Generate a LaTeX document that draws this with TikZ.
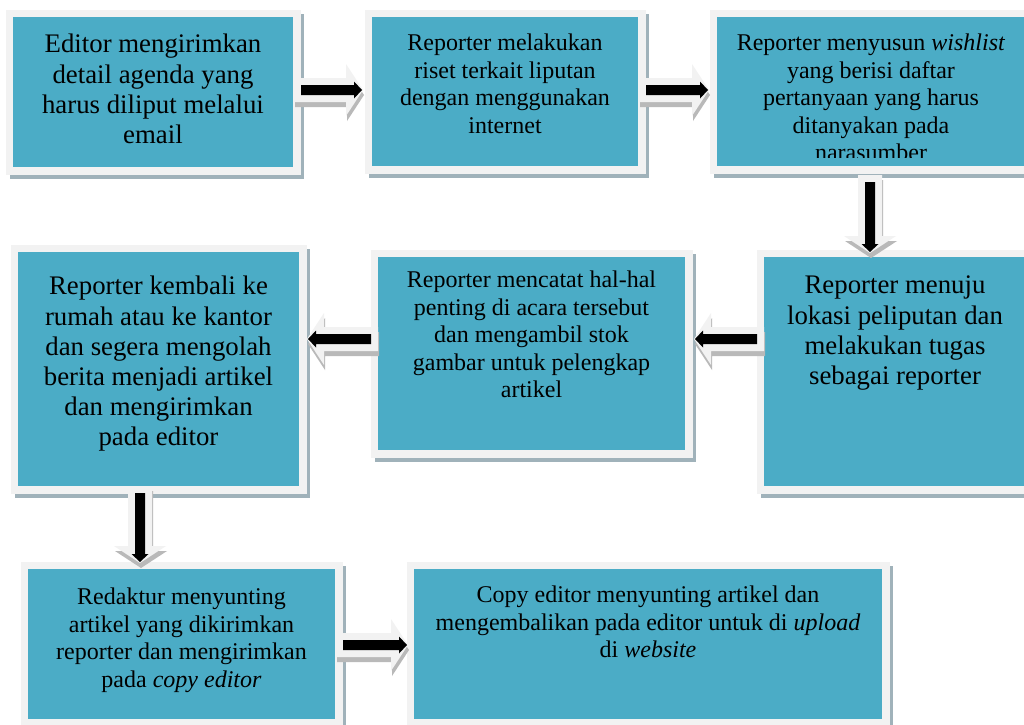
\documentclass[tikz,border=0pt]{standalone}
\usepackage{fontspec}
\setmainfont{Liberation Serif}
\definecolor{teal1}{RGB}{75,172,198}
\definecolor{panel}{RGB}{242,242,242}
\definecolor{bshadow}{RGB}{160,178,186}
\definecolor{ashadow}{RGB}{185,185,185}
\tikzset{
  box/.style={fill=teal1, draw=panel, line width=7.5pt, inner sep=0pt, outer sep=0pt},
  txtA/.style={align=center, inner sep=0pt, anchor=north, font=\fontsize{26.8}{30.2}\selectfont},
  txtB/.style={align=center, inner sep=0pt, anchor=north, font=\fontsize{24}{27.4}\selectfont},
}
% name, teal x0, y0, x1, y1
\newcommand\flowbox[5]{%
  \fill[bshadow] (#2-3.5,#3-3.5) rectangle (#4+10.5,#5+11.5);
  \node[box, minimum width={#4-#2+7.5}, minimum height={#5-#3+7.5}] (#1) at ({(#2+#4)/2},{(#3+#5)/2}) {};
}
% x, y of tail, rotation, length
\newcommand\blockarrow[4]{%
  \begin{scope}[shift={(#1+1,#2+5)},rotate=#3]
    \fill[ashadow] (0,-12)--(#4-17,-12)--(#4-17,-26)--(#4,0)--(#4-17,26)--(#4-17,12)--(0,12)--cycle;
  \end{scope}
  \begin{scope}[shift={(#1,#2)},rotate=#3]
    \fill[panel] (0,-12)--(#4-17,-12)--(#4-17,-26)--(#4,0)--(#4-17,26)--(#4-17,12)--(0,12)--cycle;
    \fill[black] (7,-5)--(#4-9,-5)--(#4-9,-8.5)--(#4-1,0)--(#4-9,8.5)--(#4-9,5)--(7,5)--cycle;
  \end{scope}
}
\begin{document}
\begin{tikzpicture}[x=1pt,y=-1pt]
\useasboundingbox (0,0) rectangle (1024,724);
\fill[white] (0,0) rectangle (1024,724);
\begin{scope}
\clip (0,0) rectangle (1024,724);
% boxes
\flowbox{b1}{13}{17}{293}{167}
\flowbox{b2}{372}{17}{638}{166}
\flowbox{b3}{717}{17}{1025}{166}
\flowbox{b4}{18}{252}{299}{486}
\flowbox{b5}{378}{257}{685}{450}
\flowbox{b6}{764}{257}{1026}{486}
\flowbox{b7}{28}{569}{335}{719}
\flowbox{b8}{414}{569}{882}{719}
% texts
\node[txtA] (t1) at (153,34) {Editor mengirimkan\\detail agenda yang\\harus diliput melalui\\email};
\node[txtB] (t2) at (505,34) {Reporter melakukan\\riset terkait liputan\\dengan menggunakan\\internet};
\begin{scope}
\clip (717,17) rectangle (1025,157);
\node[txtB] (t3) at (871,34) {Reporter menyusun \textit{wishlist}\\yang berisi daftar\\pertanyaan yang harus\\ditanyakan pada\\narasumber};
\end{scope}
\node[txtA] (t4) at (158.5,276) {Reporter kembali ke\\rumah atau ke kantor\\dan segera mengolah\\berita menjadi artikel\\dan mengirimkan\\pada editor};
\node[txtB] (t5) at (531.5,271) {Reporter mencatat hal-hal\\penting di acara tersebut\\dan mengambil stok\\gambar untuk pelengkap\\artikel};
\node[txtA] (t6) at (895,276) {Reporter menuju\\lokasi peliputan dan\\melakukan tugas\\sebagai reporter};
\node[txtB] (t7) at (181.5,588) {Redaktur menyunting\\artikel yang dikirimkan\\reporter dan mengirimkan\\pada \textit{copy editor}};
\node[txtB] (t8) at (648,586) {Copy editor menyunting artikel dan\\mengembalikan pada editor untuk di \textit{upload}\\di \textit{website}};
% connectors (block arrows)
\blockarrow{294}{90}{0}{69}
\blockarrow{639}{90}{0}{70}
\blockarrow{870}{175}{-90}{78}
\blockarrow{764}{339}{180}{70}
\blockarrow{378}{339}{180}{71}
\blockarrow{140}{486}{-90}{77}
\blockarrow{336}{645}{0}{72}
\end{scope}
\end{tikzpicture}
\end{document}
